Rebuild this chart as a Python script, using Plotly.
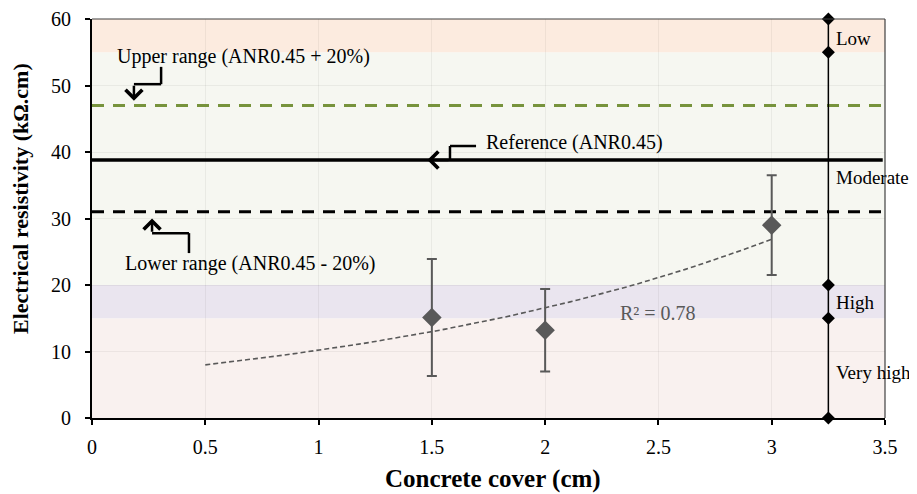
import numpy as np
import plotly.graph_objects as go

# ---- data ----
cover_cm = [1.5, 2.0, 3.0]
resistivity = [15.1, 13.2, 29.0]
resistivity_err = [8.8, 6.2, 7.5]

reference_level = 38.8
upper_level = 47.0
lower_level = 31.0

band_edges = [0, 15, 20, 55, 60]
band_names = ["Very high", "High", "Moderate", "Low"]
band_label_y = [6.9, 17.3, 36.1, 57.1]
scale_x = 3.25

x_ticks = [0, 0.5, 1, 1.5, 2, 2.5, 3, 3.5]
y_ticks = [0, 10, 20, 30, 40, 50, 60]

# exponential trendline fitted to the measurements
b, ln_a = np.polyfit(cover_cm, np.log(resistivity), 1)
trend_x = np.linspace(0.5, 3.0, 60)
trend_y = np.exp(ln_a) * np.exp(b * trend_x)
pred = ln_a + b * np.array(cover_cm)
ly = np.log(resistivity)
r2 = 1 - np.sum((ly - pred) ** 2) / np.sum((ly - ly.mean()) ** 2)

FONT = "Liberation Serif, Times New Roman, serif"
band_colors = ["#F9F1EF", "#EAE5EF", "#F6F7F1", "#FCEBDF"]

fig = go.Figure()

shapes = []
for i, c in enumerate(band_colors):
    shapes.append(dict(type="rect", xref="paper", yref="y", x0=0, x1=1,
                       y0=band_edges[i], y1=band_edges[i + 1],
                       fillcolor=c, line=dict(width=0), layer="below"))

# horizontal reference lines
fig.add_trace(go.Scatter(x=[0, 3.5], y=[upper_level] * 2, mode="lines",
                         line=dict(color="#77933C", width=3, dash="12px,9px"),
                         hoverinfo="skip", showlegend=False))
fig.add_trace(go.Scatter(x=[0, 3.49], y=[reference_level] * 2, mode="lines",
                         line=dict(color="black", width=3.5),
                         hoverinfo="skip", showlegend=False))
fig.add_trace(go.Scatter(x=[0, 3.5], y=[lower_level] * 2, mode="lines",
                         line=dict(color="black", width=3, dash="12px,9px"),
                         hoverinfo="skip", showlegend=False))

# classification scale line
fig.add_trace(go.Scatter(x=[scale_x] * len(band_edges), y=band_edges,
                         mode="lines+markers",
                         line=dict(color="black", width=1.5),
                         marker=dict(symbol="diamond", size=10, color="black"),
                         hoverinfo="skip", showlegend=False, cliponaxis=False))

# trendline
fig.add_trace(go.Scatter(x=trend_x, y=trend_y, mode="lines",
                         line=dict(color="#595959", width=1.6, dash="5px,3px"),
                         hoverinfo="skip", showlegend=False))

# measurements
fig.add_trace(go.Scatter(x=cover_cm, y=resistivity, mode="markers",
                         marker=dict(symbol="diamond", size=15, color="#595959"),
                         error_y=dict(type="data", array=resistivity_err,
                                      color="#595959", thickness=2, width=5),
                         showlegend=False))

# elbow arrows (layout decoration)
arrows = [
    dict(path=[(0.305, 52.8), (0.305, 50.2), (0.185, 50.2)], head=(0.185, 47.7)),
    dict(path=[(1.695, 40.9), (1.58, 40.9), (1.58, 38.8)], head=(1.48, 38.8)),
    dict(path=[(0.428, 24.8), (0.428, 27.8), (0.265, 27.8)], head=(0.265, 30.0)),
]
annotations = []
for a in arrows:
    pts = a["path"]
    for p, q in zip(pts[:-1], pts[1:]):
        shapes.append(dict(type="line", xref="x", yref="y", x0=p[0], y0=p[1],
                           x1=q[0], y1=q[1], line=dict(color="black", width=2.5)))
    last = pts[-1]
    annotations.append(dict(x=a["head"][0], y=a["head"][1], ax=last[0], ay=last[1],
                            xref="x", yref="y", axref="x", ayref="y", text="",
                            showarrow=True, arrowhead=4, arrowsize=1.3,
                            arrowwidth=2.5, arrowcolor="black"))

txt = dict(family=FONT, size=20, color="black")
annotations += [
    dict(x=0.10, y=54.3, xref="x", yref="y", text="Upper range (ANR0.45 + 20%)",
         showarrow=False, xanchor="left", yanchor="middle", font=txt),
    dict(x=1.73, y=41.4, xref="x", yref="y", text="Reference (ANR0.45)",
         showarrow=False, xanchor="left", yanchor="middle", font=txt),
    dict(x=0.135, y=23.2, xref="x", yref="y", text="Lower range (ANR0.45 - 20%)",
         showarrow=False, xanchor="left", yanchor="middle", font=txt),
    dict(x=2.50, y=15.8, xref="x", yref="y", text=f"R² = {r2:.2f}",
         showarrow=False, xanchor="center", yanchor="middle",
         font=dict(family=FONT, size=20, color="#595959")),
    # axis titles
    dict(x=0.5057, y=-0.152, xref="paper", yref="paper",
         text="<b>Concrete cover (cm)</b>", showarrow=False,
         xanchor="center", yanchor="middle", font=dict(family=FONT, size=25)),
    dict(x=-0.0895, y=0.549, xref="paper", yref="paper",
         text="<b>Electrical resistivity (kΩ.cm)</b>", showarrow=False,
         textangle=-90, xanchor="center", yanchor="middle",
         font=dict(family=FONT, size=22)),
]
for name, yy in zip(band_names, band_label_y):
    annotations.append(dict(x=3.277, y=yy, xref="x", yref="y", text=name,
                            showarrow=False, xanchor="left", yanchor="middle",
                            font=dict(family=FONT, size=19, color="black")))

fig.update_layout(
    width=909, height=486,
    margin=dict(l=84, r=32, t=11, b=76, autoexpand=False),
    paper_bgcolor="white", plot_bgcolor="white",
    font=dict(family=FONT, size=20, color="black"),
    shapes=shapes, annotations=annotations,
    xaxis=dict(range=[0, 3.5], tickvals=x_ticks, ticktext=[f"{v:g}" for v in x_ticks],
               showgrid=True, gridcolor="rgba(0,0,0,0.05)", gridwidth=1,
               showline=True, linecolor="black", linewidth=2, mirror=False,
               ticks="outside", ticklen=5, tickwidth=1.5, tickcolor="black",
               ticklabelstandoff=5,
               zeroline=False, tickfont=dict(family=FONT, size=20)),
    yaxis=dict(range=[0, 60], tickvals=y_ticks,
               showgrid=True, gridcolor="rgba(0,0,0,0.05)", gridwidth=1,
               showline=True, linecolor="black", linewidth=2,
               ticks="outside", ticklen=5, tickwidth=1.5, tickcolor="black",
               ticklabelstandoff=10,
               zeroline=False, tickfont=dict(family=FONT, size=20)),
)
# thin frame on top/right
fig.add_shape(type="line", xref="paper", yref="paper", x0=0, x1=1, y0=1, y1=1,
              line=dict(color="#404040", width=1.2))
fig.add_shape(type="line", xref="paper", yref="paper", x0=1, x1=1, y0=0, y1=1,
              line=dict(color="#404040", width=1.2))

fig.write_html("out.html")
